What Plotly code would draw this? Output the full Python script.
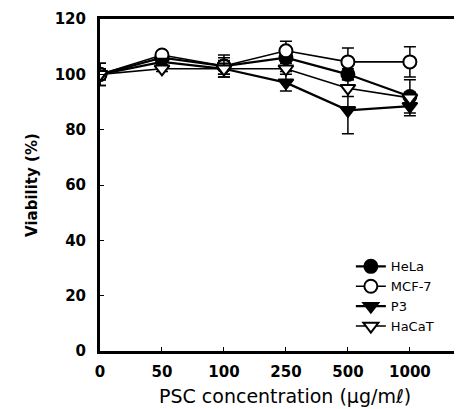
import plotly.graph_objects as go

categories = ["0", "50", "100", "250", "500", "1000"]
hela = [100, 106, 103, 106, 100, 92]
hela_err = [4, 1, 4, 2, 2, 6]
mcf7 = [100, 107, 103, 108.5, 104.5, 104.5]
mcf7_err = [2, 1, 3, 3.5, 5, 5.5]
p3 = [100, 104.5, 102, 97, 87, 88.5]
p3_err = [4, 1, 2, 3, 8.5, 3.5]
hacat = [100, 102, 102, 102, 95, 91.5]
hacat_err = [2, 1, 3, 1, 3, 2]
y_ticks = [0, 20, 40, 60, 80, 100, 120]

xpos = list(range(len(categories)))
series = [
    ("HeLa", hela, hela_err, "circle", "black", 2.2),
    ("MCF-7", mcf7, mcf7_err, "circle", "white", 1.6),
    ("P3", p3, p3_err, "triangle-down", "black", 2.2),
    ("HaCaT", hacat, hacat_err, "triangle-down", "white", 1.6),
]

fig = go.Figure()
for name, vals, err, sym, fill, lw in series:
    fig.add_trace(go.Scatter(
        x=xpos, y=vals, name=name, mode="lines+markers",
        line=dict(color="black", width=lw),
        marker=dict(symbol=sym, size=13, color=fill,
                    line=dict(color="black", width=2)),
        error_y=dict(type="data", array=err, visible=True, color="black",
                     thickness=1.5, width=6),
    ))

tickfont = dict(family="DejaVu Sans", size=15, weight="bold", color="black")

fig.update_layout(
    width=462, height=409,
    margin=dict(l=92, r=0, t=11, b=66),
    paper_bgcolor="white", plot_bgcolor="white",
    font=dict(family="DejaVu Sans", color="black"),
    showlegend=True,
    legend=dict(x=0.678, y=0.30, xanchor="left", yanchor="top",
                bgcolor="rgba(0,0,0,0)", font=dict(size=13),
                tracegroupgap=0),
    xaxis=dict(range=[0, 5.97], tickvals=xpos, ticktext=categories,
               showline=True, linecolor="black", linewidth=3, mirror=True,
               ticks="inside", ticklen=4, tickcolor="black", showgrid=False,
               zeroline=False, ticklabelstandoff=5, tickfont=tickfont),
    yaxis=dict(range=[0, 120], tickvals=y_ticks,
               showline=True, linecolor="black", linewidth=3,
               ticks="inside", ticklen=4, tickcolor="black", showgrid=False,
               zeroline=False, ticklabelstandoff=8, tickfont=tickfont),
    annotations=[
        dict(text="Viability (%)", xref="paper", yref="paper", x=-0.184, y=0.5,
             textangle=-90, showarrow=False,
             font=dict(family="DejaVu Sans", size=15, weight="bold"),
             xanchor="center", yanchor="middle"),
        dict(text="PSC concentration (μg/mℓ)", xref="paper", yref="paper",
             x=0.5, y=-0.1355, showarrow=False,
             font=dict(family="DejaVu Sans", size=19),
             xanchor="center", yanchor="middle"),
    ],
)
fig.write_html("out.html")
